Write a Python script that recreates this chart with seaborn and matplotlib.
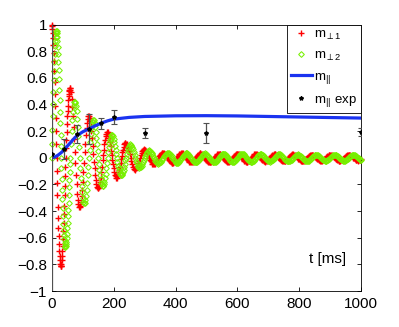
import numpy as np
import matplotlib
matplotlib.use("Agg")
import matplotlib.pyplot as plt
import seaborn as sns
from matplotlib.lines import Line2D

# ---------------- data ----------------
# sampling times [ms]: 1 ms steps early, 2 ms steps, then 2.5 ms steps
t_early = np.arange(0, 60, 1)
t_mid = np.arange(60, 240, 2)
t_late = np.arange(240, 1000.1, 2.5)

m_perp1_early = [
    1.00, 0.99, 0.97, 0.94, 0.90, 0.85, 0.79, 0.73, 0.65, 0.57,
    0.48, 0.39, 0.30, 0.20, 0.10, 0.00, -0.10, -0.19, -0.28, -0.37,
    -0.45, -0.53, -0.59, -0.65, -0.70, -0.74, -0.77, -0.80, -0.81, -0.81,
    -0.81, -0.80, -0.77, -0.74, -0.70, -0.66, -0.61, -0.55, -0.49, -0.42,
    -0.36, -0.28, -0.21, -0.14, -0.07, 0.00, 0.07, 0.13, 0.19, 0.25,
    0.31, 0.35, 0.39, 0.43, 0.46, 0.48, 0.50, 0.51, 0.52, 0.52]
m_perp2_early = [
    0.00, 0.10, 0.21, 0.31, 0.40, 0.49, 0.58, 0.65, 0.72, 0.78,
    0.84, 0.88, 0.91, 0.94, 0.95, 0.95, 0.94, 0.91, 0.88, 0.83,
    0.78, 0.72, 0.66, 0.59, 0.51, 0.43, 0.34, 0.26, 0.17, 0.09,
    0.00, -0.08, -0.16, -0.24, -0.31, -0.38, -0.44, -0.50, -0.54, -0.58,
    -0.61, -0.64, -0.66, -0.67, -0.67, -0.66, -0.65, -0.63, -0.60, -0.57,
    -0.53, -0.49, -0.44, -0.39, -0.34, -0.28, -0.22, -0.17, -0.11, -0.05]

m_perp1_mid = [
    0.51, 0.49, 0.44, 0.38, 0.31, 0.23, 0.14, 0.04, -0.04, -0.13,
    -0.20, -0.27, -0.32, -0.35, -0.37, -0.37, -0.36, -0.33, -0.29, -0.24,
    -0.18, -0.11, -0.04, 0.04, 0.10, 0.17, 0.22, 0.26, 0.29, 0.31,
    0.31, 0.30, 0.28, 0.24, 0.20, 0.15, 0.09, 0.03, -0.03, -0.08,
    -0.13, -0.17, -0.20, -0.22, -0.23, -0.23, -0.22, -0.21, -0.18, -0.15,
    -0.11, -0.07, -0.02, 0.02, 0.06, 0.10, 0.13, 0.16, 0.18, 0.19,
    0.19, 0.18, 0.17, 0.15, 0.12, 0.09, 0.05, 0.02, -0.02, -0.05,
    -0.08, -0.11, -0.13, -0.14, -0.15, -0.15, -0.14, -0.13, -0.11, -0.09,
    -0.07, -0.04, -0.01, 0.01, 0.04, 0.06, 0.08, 0.10, 0.11, 0.11]
m_perp2_mid = [
    0.00, 0.10, 0.20, 0.28, 0.34, 0.39, 0.42, 0.42, 0.41, 0.39,
    0.35, 0.29, 0.23, 0.16, 0.08, 0.00, -0.08, -0.15, -0.21, -0.26,
    -0.30, -0.33, -0.34, -0.34, -0.32, -0.29, -0.24, -0.19, -0.13, -0.07,
    0.00, 0.06, 0.12, 0.18, 0.22, 0.25, 0.27, 0.28, 0.28, 0.26,
    0.23, 0.19, 0.15, 0.10, 0.05, 0.00, -0.05, -0.09, -0.13, -0.16,
    -0.19, -0.20, -0.21, -0.21, -0.20, -0.18, -0.15, -0.12, -0.08, -0.04,
    0.00, 0.04, 0.08, 0.11, 0.13, 0.15, 0.17, 0.17, 0.17, 0.16,
    0.14, 0.12, 0.09, 0.06, 0.03, 0.00, -0.03, -0.06, -0.08, -0.10,
    -0.12, -0.13, -0.13, -0.13, -0.12, -0.11, -0.09, -0.07, -0.05, -0.02]

m_perp1_late = [
    # 240 - 357.5
    0.105, 0.101, 0.091, 0.074, 0.053, 0.027, 0.000, -0.024, -0.047, -0.066, -0.081, -0.090,
    -0.082, -0.079, -0.071, -0.058, -0.041, -0.021, 0.000, 0.018, 0.035, 0.049, 0.061, 0.068,
    0.058, 0.056, 0.050, 0.041, 0.029, 0.015, 0.000, -0.013, -0.025, -0.035, -0.043, -0.048,
    -0.044, -0.043, -0.038, -0.031, -0.022, -0.011, 0.000, 0.010, 0.020, 0.028, 0.035, 0.039,
    # 360 - 417.5
    0.037, 0.036, 0.032, 0.026, 0.019, 0.010, 0.000, -0.010, -0.019, -0.026, -0.032, -0.036,
    -0.037, -0.036, -0.032, -0.026, -0.019, -0.010, 0.000, 0.010, 0.019, 0.026, 0.032, 0.036,
    # 420 - 477.5
    0.034, 0.033, 0.029, 0.024, 0.017, 0.009, 0.000, -0.009, -0.017, -0.024, -0.029, -0.033,
    -0.034, -0.033, -0.029, -0.024, -0.017, -0.009, 0.000, 0.009, 0.017, 0.024, 0.029, 0.033,
    # 480 - 537.5
    0.033, 0.031, 0.028, 0.023, 0.016, 0.008, 0.000, -0.008, -0.016, -0.023, -0.028, -0.031,
    -0.033, -0.031, -0.028, -0.023, -0.016, -0.008, 0.000, 0.008, 0.016, 0.023, 0.028, 0.031,
    # 540 - 597.5
    0.031, 0.030, 0.027, 0.022, 0.016, 0.008, 0.000, -0.008, -0.016, -0.022, -0.027, -0.030,
    -0.031, -0.030, -0.027, -0.022, -0.016, -0.008, 0.000, 0.008, 0.016, 0.022, 0.027, 0.030,
    # 600 - 657.5
    0.030, 0.028, 0.026, 0.021, 0.015, 0.008, 0.000, -0.008, -0.015, -0.021, -0.026, -0.028,
    -0.030, -0.028, -0.026, -0.021, -0.015, -0.008, 0.000, 0.008, 0.015, 0.021, 0.026, 0.028,
    # 660 - 717.5
    0.028, 0.027, 0.024, 0.020, 0.014, 0.007, 0.000, -0.007, -0.014, -0.020, -0.024, -0.027,
    -0.028, -0.027, -0.024, -0.020, -0.014, -0.007, 0.000, 0.007, 0.014, 0.020, 0.024, 0.027,
    # 720 - 777.5
    0.026, 0.025, 0.023, 0.018, 0.013, 0.007, 0.000, -0.007, -0.013, -0.018, -0.023, -0.025,
    -0.026, -0.025, -0.023, -0.018, -0.013, -0.007, 0.000, 0.007, 0.013, 0.018, 0.023, 0.025,
    # 780 - 837.5
    0.025, 0.024, 0.021, 0.017, 0.012, 0.006, 0.000, -0.006, -0.012, -0.017, -0.021, -0.024,
    -0.025, -0.024, -0.021, -0.017, -0.012, -0.006, 0.000, 0.006, 0.012, 0.017, 0.021, 0.024,
    # 840 - 897.5
    0.023, 0.022, 0.020, 0.016, 0.012, 0.006, 0.000, -0.006, -0.012, -0.016, -0.020, -0.022,
    -0.023, -0.022, -0.020, -0.016, -0.012, -0.006, 0.000, 0.006, 0.012, 0.016, 0.020, 0.022,
    # 900 - 957.5
    0.022, 0.021, 0.019, 0.016, 0.011, 0.006, 0.000, -0.006, -0.011, -0.016, -0.019, -0.021,
    -0.022, -0.021, -0.019, -0.016, -0.011, -0.006, 0.000, 0.006, 0.011, 0.016, 0.019, 0.021,
    # 960 - 1000
    0.021, 0.020, 0.018, 0.014, 0.010, 0.005, 0.000, -0.005, -0.010, -0.014, -0.018, -0.020,
    -0.021, -0.020, -0.018, -0.014, -0.010]
m_perp2_late = [
    # 240 - 357.5
    0.000, 0.027, 0.053, 0.074, 0.091, 0.101, 0.093, 0.090, 0.081, 0.066, 0.047, 0.024,
    0.000, -0.021, -0.041, -0.058, -0.071, -0.079, -0.070, -0.068, -0.061, -0.049, -0.035, -0.018,
    0.000, 0.015, 0.029, 0.041, 0.050, 0.056, 0.050, 0.048, 0.043, 0.035, 0.025, 0.013,
    0.000, -0.011, -0.022, -0.031, -0.038, -0.043, -0.040, -0.039, -0.035, -0.028, -0.020, -0.010,
    # 360 - 417.5
    0.000, 0.010, 0.019, 0.026, 0.032, 0.036, 0.037, 0.036, 0.032, 0.026, 0.019, 0.010,
    0.000, -0.010, -0.019, -0.026, -0.032, -0.036, -0.037, -0.036, -0.032, -0.026, -0.019, -0.010,
    # 420 - 477.5
    0.000, 0.009, 0.017, 0.024, 0.029, 0.033, 0.034, 0.033, 0.029, 0.024, 0.017, 0.009,
    0.000, -0.009, -0.017, -0.024, -0.029, -0.033, -0.034, -0.033, -0.029, -0.024, -0.017, -0.009,
    # 480 - 537.5
    0.000, 0.008, 0.016, 0.023, 0.028, 0.031, 0.033, 0.031, 0.028, 0.023, 0.016, 0.008,
    0.000, -0.008, -0.016, -0.023, -0.028, -0.031, -0.033, -0.031, -0.028, -0.023, -0.016, -0.008,
    # 540 - 597.5
    0.000, 0.008, 0.016, 0.022, 0.027, 0.030, 0.031, 0.030, 0.027, 0.022, 0.016, 0.008,
    0.000, -0.008, -0.016, -0.022, -0.027, -0.030, -0.031, -0.030, -0.027, -0.022, -0.016, -0.008,
    # 600 - 657.5
    0.000, 0.008, 0.015, 0.021, 0.026, 0.028, 0.030, 0.028, 0.026, 0.021, 0.015, 0.008,
    0.000, -0.008, -0.015, -0.021, -0.026, -0.028, -0.030, -0.028, -0.026, -0.021, -0.015, -0.008,
    # 660 - 717.5
    0.000, 0.007, 0.014, 0.020, 0.024, 0.027, 0.028, 0.027, 0.024, 0.020, 0.014, 0.007,
    0.000, -0.007, -0.014, -0.020, -0.024, -0.027, -0.028, -0.027, -0.024, -0.020, -0.014, -0.007,
    # 720 - 777.5
    0.000, 0.007, 0.013, 0.018, 0.023, 0.025, 0.026, 0.025, 0.023, 0.018, 0.013, 0.007,
    0.000, -0.007, -0.013, -0.018, -0.023, -0.025, -0.026, -0.025, -0.023, -0.018, -0.013, -0.007,
    # 780 - 837.5
    0.000, 0.006, 0.012, 0.017, 0.021, 0.024, 0.025, 0.024, 0.021, 0.017, 0.012, 0.006,
    0.000, -0.006, -0.012, -0.017, -0.021, -0.024, -0.025, -0.024, -0.021, -0.017, -0.012, -0.006,
    # 840 - 897.5
    0.000, 0.006, 0.012, 0.016, 0.020, 0.022, 0.023, 0.022, 0.020, 0.016, 0.012, 0.006,
    0.000, -0.006, -0.012, -0.016, -0.020, -0.022, -0.023, -0.022, -0.020, -0.016, -0.012, -0.006,
    # 900 - 957.5
    0.000, 0.006, 0.011, 0.016, 0.019, 0.021, 0.022, 0.021, 0.019, 0.016, 0.011, 0.006,
    0.000, -0.006, -0.011, -0.016, -0.019, -0.021, -0.022, -0.021, -0.019, -0.016, -0.011, -0.006,
    # 960 - 1000
    0.000, 0.005, 0.010, 0.014, 0.018, 0.020, 0.021, 0.020, 0.018, 0.014, 0.010, 0.005,
    0.000, -0.005, -0.010, -0.014, -0.018]

# parallel component (simulation)
t_par = [0, 10, 20, 30, 40, 50, 60, 70, 80, 90, 100, 120, 140, 160, 180, 200,
         250, 300, 400, 500, 600, 700, 800, 900, 1000]
m_par = [0.0, 0.006, 0.02, 0.038, 0.06, 0.088, 0.113, 0.14, 0.163, 0.18, 0.195,
         0.218, 0.24, 0.26, 0.277, 0.29, 0.303, 0.31, 0.315, 0.316, 0.314,
         0.31, 0.306, 0.302, 0.298]

# parallel component (experiment)
t_exp = [0, 40, 80, 120, 160, 200, 300, 500, 1000]
m_exp = [0.03, 0.065, 0.178, 0.215, 0.258, 0.305, 0.186, 0.186, 0.19]
err_exp = [1.5, 0.075, 0.07, 0.115, 0.04, 0.055, 0.035, 0.075, 0.03]

labels = ["m$_{\\perp1}$", "m$_{\\perp2}$", "m$_{||}$", "m$_{||}$ exp"]
xticks = [0, 200, 400, 600, 800, 1000]
yticks = [-1, -0.8, -0.6, -0.4, -0.2, 0, 0.2, 0.4, 0.6, 0.8, 1]
ytick_labels = ["\u22121", "\u22120.8", "\u22120.6", "\u22120.4", "\u22120.2", "0",
                "0.2", "0.4", "0.6", "0.8", "1"]

# ---------------- style ----------------
plt.rcParams["font.family"] = ["Liberation Sans", "DejaVu Sans"]
plt.rcParams["mathtext.fontset"] = "custom"
plt.rcParams["mathtext.rm"] = "Liberation Sans"
plt.rcParams["mathtext.it"] = "Liberation Sans:italic"
plt.rcParams["mathtext.bf"] = "Liberation Sans:bold"

RED = "#ff0000"
GREEN = "#76f000"
BLUE = "#1a33f0"

fig = plt.figure(figsize=(3.99, 3.27), dpi=100)
fig.patch.set_facecolor("white")
ax = fig.add_axes([0.13, 0.11, 0.775, 0.815])

t_all = np.concatenate([t_early, t_mid, t_late])
m1 = np.array(m_perp1_early + m_perp1_mid + m_perp1_late)
m2 = np.array(m_perp2_early + m_perp2_mid + m_perp2_late)

sns.lineplot(x=t_all, y=m1, estimator=None, sort=False, ax=ax, legend=False,
             marker="+", linestyle="", color=RED, markersize=4.2,
             markeredgewidth=1.0, markeredgecolor=RED, clip_on=False, zorder=2)
sns.lineplot(x=t_all, y=m2, estimator=None, sort=False, ax=ax, legend=False,
             marker="D", linestyle="", color=GREEN, markersize=2.9,
             markeredgewidth=0.75, markeredgecolor=GREEN,
             markerfacecolor="none", clip_on=False, zorder=3)
sns.lineplot(x=t_par, y=m_par, estimator=None, ax=ax, legend=False,
             color=BLUE, linewidth=2.3, zorder=4)
ax.errorbar(t_exp, m_exp, yerr=err_exp, fmt="*", color="k", ms=3.0,
            ecolor="#505050", elinewidth=0.9, capsize=2.5, capthick=0.8,
            zorder=5)

handles = [
    Line2D([], [], marker="+", ls="", color=RED, ms=4.0, mew=1.0),
    Line2D([], [], marker="D", ls="", color=GREEN, ms=2.9, mew=0.75,
           markerfacecolor="none"),
    Line2D([], [], color=BLUE, lw=2.3),
    Line2D([], [], marker="*", ls="", color="k", ms=3.0),
]
leg = ax.legend(handles, labels, loc="upper right", borderaxespad=0,
                fancybox=False, edgecolor="k", framealpha=1, fontsize=9.5,
                handlelength=1.6, handletextpad=0.2, labelspacing=0.58,
                borderpad=0.3, numpoints=1)
leg.get_frame().set_linewidth(0.6)

ax.text(832, -0.76, "t [ms]", fontsize=11, ha="left", va="center")

ax.set_xlim(0, 1000)
ax.set_ylim(-1, 1)
ax.set_xticks(xticks)
ax.set_xticklabels([str(v) for v in xticks])
ax.set_yticks(yticks)
ax.set_yticklabels(ytick_labels)
ax.tick_params(direction="in", top=True, right=True, length=3, width=0.6,
               labelsize=11, colors="k")
ax.tick_params(axis="x", pad=4.5)
ax.tick_params(axis="y", pad=3.5)
for s in ax.spines.values():
    s.set_linewidth(0.6)
    s.set_color("k")
ax.set_xlabel("")
ax.set_ylabel("")
ax.set_facecolor("white")

fig.savefig("out.png", dpi=100, facecolor="white")
